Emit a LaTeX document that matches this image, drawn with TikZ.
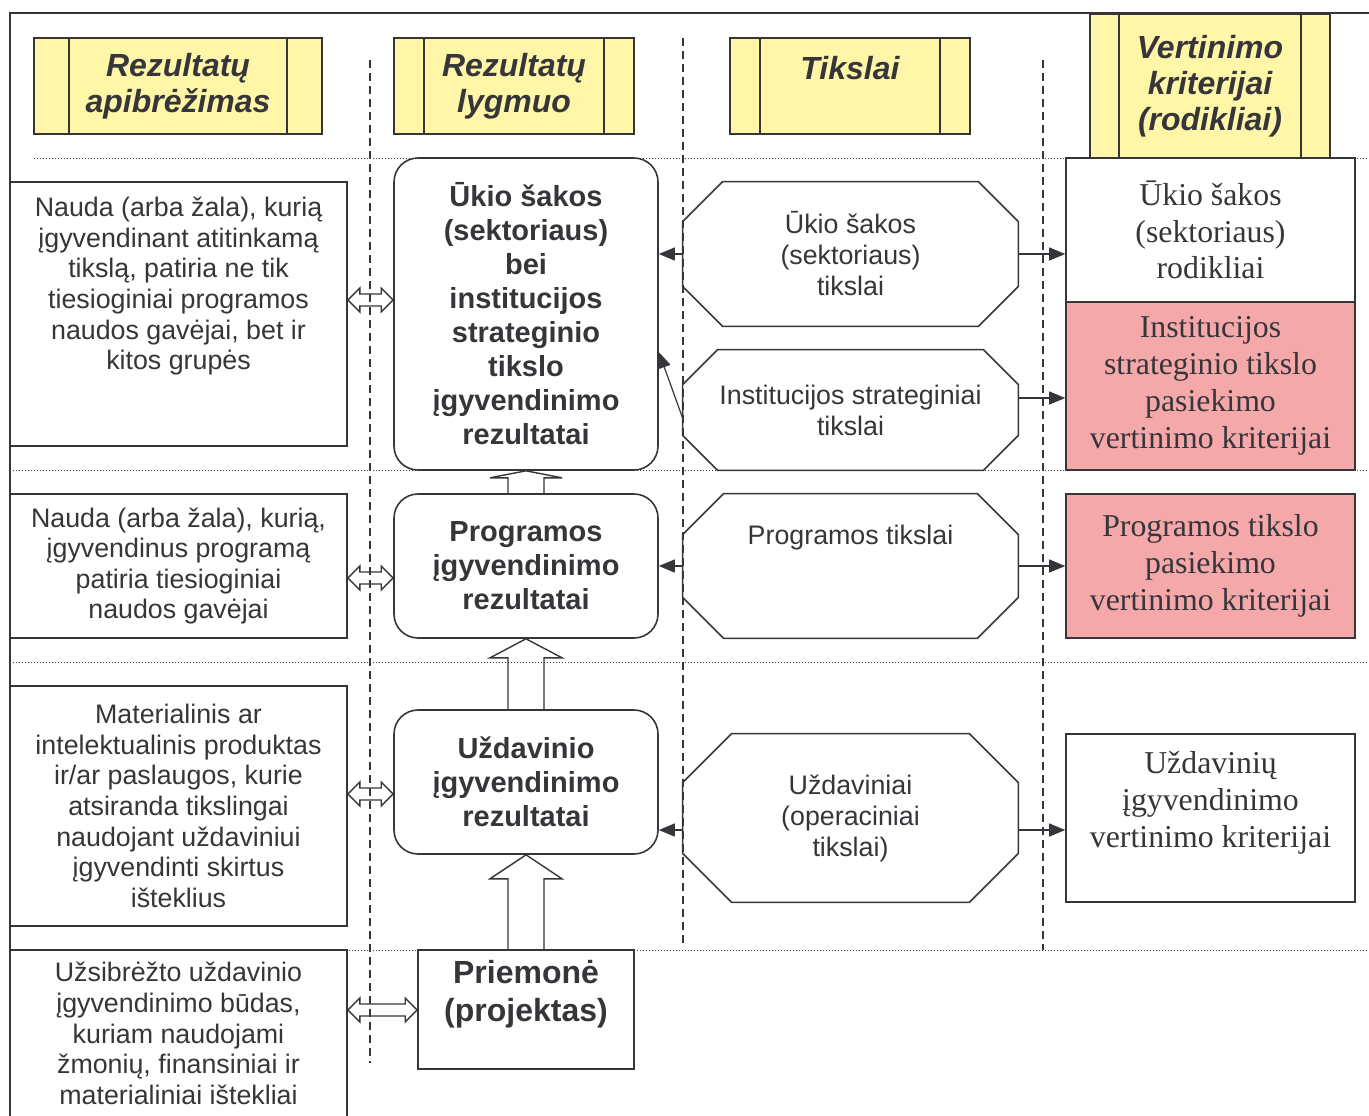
\documentclass[tikz,border=0pt]{standalone}
\usepackage{fontspec}
\setmainfont{Liberation Serif}
\setsansfont{Liberation Sans}
\usetikzlibrary{arrows.meta,calc}

\definecolor{ink}{RGB}{54,54,58}
\definecolor{hdrfill}{RGB}{255,246,168}
\definecolor{critfill}{RGB}{245,168,170}

\begin{document}
\begin{tikzpicture}[
  x=0.5pt,y=-0.5pt,
  font=\sffamily, text=ink,
  >={Triangle[length=8pt,width=6.5pt]},
  frm/.style={draw=ink,line width=0.8pt},
  conn/.style={->,draw=ink,line width=0.6pt},
  blk/.style={draw=ink,line width=0.7pt},
  colline/.style={ink,line width=0.6pt,dash pattern=on 4pt off 2.5pt},
  rowline/.style={ink,line width=0.5pt,dash pattern=on 0.5pt off 1pt},
  hdr/.style={frm,fill=hdrfill,minimum width=120pt,minimum height=48pt,inner sep=0pt,
    align=center,font=\sffamily\bfseries\itshape\fontsize{16}{18}\selectfont,
    path picture={\draw[ink,line width=0.8pt]
      ([xshift=#1]path picture bounding box.north west) -- ([xshift=#1]path picture bounding box.south west)
      ([xshift=-#1]path picture bounding box.north east) -- ([xshift=-#1]path picture bounding box.south east);}},
  hdr/.default=15pt,
  desc/.style={frm,minimum width=168.5pt,inner sep=0pt,align=center,font=\sffamily\fontsize{13.4}{15.3}\selectfont},
  res/.style={frm,rounded corners=12pt,minimum width=132pt,minimum height=72pt,inner sep=0pt,
    align=center,font=\sffamily\bfseries\fontsize{14.5}{17}\selectfont},
  goal/.style={minimum width=167.5pt,inner sep=0pt,align=center,font=\sffamily\fontsize{13.4}{15.5}\selectfont},
  crit/.style={frm,minimum width=144.5pt,inner sep=0pt,align=center,font=\rmfamily\fontsize{15.9}{18.4}\selectfont}
]

% octagon outline round a plain node: #1 = node, #2 = cut
\newcommand{\chamf}[2]{
  \draw[frm] ([xshift=#2]#1.north west) -- ([xshift=-#2]#1.north east)
    -- ([yshift=-#2]#1.north east) -- ([yshift=#2]#1.south east)
    -- ([xshift=-#2]#1.south east) -- ([xshift=#2]#1.south west)
    -- ([yshift=#2]#1.south west) -- ([yshift=-#2]#1.north west) -- cycle;
}
% hollow block arrow upwards: #1 = lower node, #2 = upper node, #3 = head length
\newcommand{\uparr}[3]{
  \draw[blk] ($(#1.north)+(-18,0)$) -- ($(#2.south)+(-18,#3)$) -- ($(#2.south)+(-36,#3)$)
    -- (#2.south) -- ($(#2.south)+(36,#3)$) -- ($(#2.south)+(18,#3)$) -- ($(#1.north)+(18,0)$);
}
% hollow double arrow: #1 = left node, #2 = right node, #3 = height
\newcommand{\dblarr}[3]{
  \draw[blk] (#1.east |- #3) -- ++(12,-12) -- ++(0,6) -- ($(#2.west |- #3)+(-12,-6)$)
    -- ++(0,-6) -- (#2.west |- #3) -- ++(-12,12) -- ++(0,-6)
    -- ($(#1.east |- #3)+(12,6)$) -- ++(0,6) -- cycle;
}

\useasboundingbox (0,0) rectangle (1369,1115);
\clip (0,0) rectangle (1369,1115);

% ramka
\draw[ink,line width=0.9pt] (10,1115) -- (10,13) -- (1369,13);

% stulpeliai ir eilutes
\draw[colline] (370,60) -- (370,1063);
\draw[colline] (683,38) -- (683,945);
\draw[colline] (1043,60) -- (1043,950);
\draw[rowline] (34,158) -- (1369,158);
\draw[rowline] (10,470) -- (1369,470);
\draw[rowline] (10,662) -- (1369,662);
\draw[rowline] (10,950) -- (1369,950);

% antrastes
\node[hdr=17.5pt,minimum width=144pt] (h1) at (178,86) {Rezultatų\\apibrėžimas};
\node[hdr] (h2) at (514,86) {Rezultatų\\lygmuo};
\node[hdr] (h3) at (850,86) {Tikslai\\~};
\node[hdr=14.5pt,minimum height=72pt] (h4) at (1210,86) {Vertinimo\\kriterijai\\(rodikliai)};

% rezultatu apibrezimai
\node[desc,minimum height=132pt] (dA) at (178.5,314) {Nauda (arba žala), kurią\\įgyvendinant atitinkamą\\tikslą, patiria ne tik\\tiesioginiai programos\\naudos gavėjai, bet ir\\kitos grupės\\~\\~};
\node[desc,minimum height=72pt] (dB) at (178.5,566) {Nauda (arba žala), kurią,\\įgyvendinus programą\\patiria tiesioginiai\\naudos gavėjai};
\node[desc,minimum height=120pt] (dC) at (178.5,806) {Materialinis ar\\intelektualinis produktas\\ir/ar paslaugos, kurie\\atsiranda tikslingai\\naudojant uždaviniui\\įgyvendinti skirtus\\išteklius};
\node[desc,minimum height=83.5pt] (dD) at (178.5,1033.5) {Užsibrėžto uždavinio\\įgyvendinimo būdas,\\kuriam naudojami\\žmonių, finansiniai ir\\materialiniai ištekliai};

% rezultatu lygmenys
\node[res,minimum height=156pt] (r1) at (526,314) {Ūkio šakos\\(sektoriaus)\\bei\\institucijos\\strateginio\\tikslo\\įgyvendinimo\\rezultatai};
\node[res] (r2) at (526,566) {Programos\\įgyvendinimo\\rezultatai};
\node[res] (r3) at (526,782) {Uždavinio\\įgyvendinimo\\rezultatai};
\node[frm,minimum width=108pt,minimum height=59.5pt,inner sep=0pt,align=center,
  font=\sffamily\bfseries\fontsize{16}{19}\selectfont] (pr) at (526,1009.5) {Priemonė\\(projektas)\\~};

% tikslai
\node[goal,minimum height=72pt] (o1) at (850.5,254) {Ūkio šakos\\(sektoriaus)\\tikslai};
\node[goal,minimum height=60pt] (o2) at (850.5,410) {Institucijos strateginiai\\tikslai};
\node[goal,minimum height=72pt] (o3) at (850.5,566) {Programos tikslai\\~\\~};
\node[goal,minimum height=84pt] (o4) at (850.5,818) {Uždaviniai\\(operaciniai\\tikslai)};
\chamf{o1}{20pt}
\chamf{o2}{17.5pt}
\chamf{o3}{20.5pt}
\chamf{o4}{24.5pt}

% vertinimo kriterijai
\node[crit,minimum height=72pt] (k1) at (1210.5,230) {Ūkio šakos\\(sektoriaus)\\rodikliai};
\node[crit,fill=critfill,minimum height=84pt] (k2) at (1210.5,386) {Institucijos\\strateginio tikslo\\pasiekimo\\vertinimo kriterijai};
\node[crit,fill=critfill,minimum height=72pt] (k3) at (1210.5,566) {Programos tikslo\\pasiekimo\\vertinimo kriterijai};
\node[crit,minimum height=84pt] (k4) at (1210.5,818) {Uždavinių\\įgyvendinimo\\vertinimo kriterijai\\~};

% rodykles
\draw[conn] (o1.west) -- (o1.west -| r1.east);
\draw[conn] ([yshift=-4pt]o2.west) -- ([yshift=-19pt]r1.east);
\draw[conn] (o3.west) -- (o3.west -| r2.east);
\draw[conn] ([yshift=-6pt]o4.west) -- ([yshift=-24pt]r3.east);
\draw[conn] (o1.east) -- (o1.east -| k1.west);
\draw[conn] ([yshift=6pt]o2.east) -- ([yshift=-6pt]k2.west);
\draw[conn] (o3.east) -- (o3.east -| k3.west);
\draw[conn] ([yshift=-6pt]o4.east) -- ([yshift=-6pt]k4.west);

\uparr{pr}{r3}{24}
\uparr{r3}{r2}{19}
\uparr{r2}{r1}{7}

\coordinate (yA) at (0,300);
\coordinate (yB) at (0,578);
\coordinate (yC) at (0,794);
\coordinate (yD) at (0,1010);
\dblarr{dA}{r1}{yA}
\dblarr{dB}{r2}{yB}
\dblarr{dC}{r3}{yC}
\dblarr{dD}{pr}{yD}

\end{tikzpicture}
\end{document}
